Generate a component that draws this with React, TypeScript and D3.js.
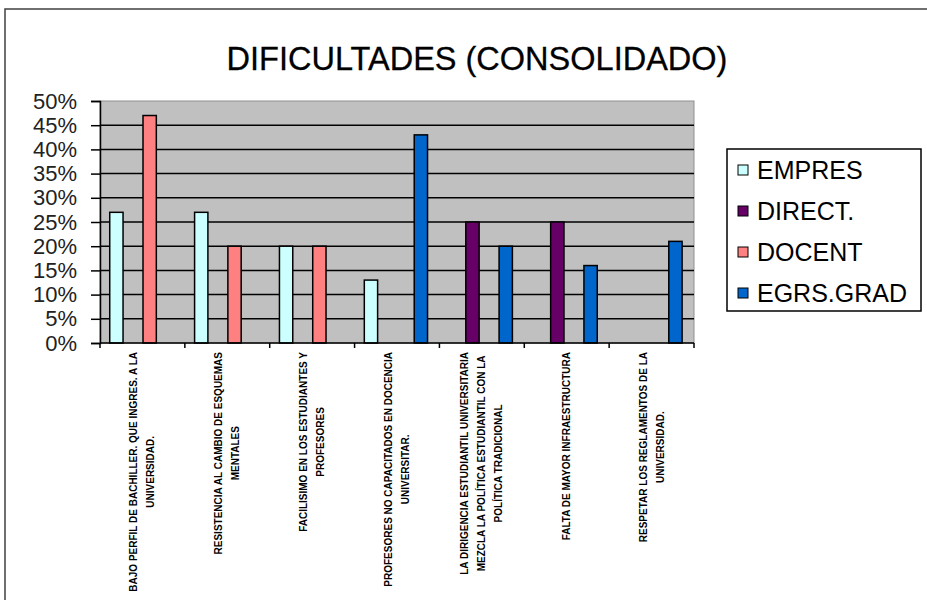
import React, { useRef, useEffect } from "react";
import * as d3 from "d3";

const title = "DIFICULTADES (CONSOLIDADO)";

const categories = [
  ["BAJO PERFIL DE BACHILLER. QUE INGRES. A LA", "UNIVERSIDAD."],
  ["RESISTENCIA AL CAMBIO DE ESQUEMAS", "MENTALES"],
  ["FACILISIMO EN LOS ESTUDIANTES Y", "PROFESORES"],
  ["PROFESORES NO CAPACITADOS EN DOCENCIA", "UNIVERSITAR."],
  [
    "LA DIRIGENCIA ESTUDIANTIL UNIVERSITARIA",
    "MEZCLA LA POLÍTICA ESTUDIANTIL CON LA",
    "POLÍTICA TRADICIONAL",
  ],
  ["FALTA DE MAYOR INFRAESTRUCTURA"],
  ["RESPETAR LOS REGLAMENTOS DE LA", "UNIVERSIDAD."],
];

const seriesNames = ["EMPRES", "DIRECT.", "DOCENT", "EGRS.GRAD"];
const seriesColors = ["#ccffff", "#660066", "#ff8080", "#0066cc"];

// values per category, null = no bar
const empres = [0.27, 0.27, 0.2, 0.13, null, null, null];
const direct = [null, null, null, null, 0.25, 0.25, null];
const docent = [0.47, 0.2, 0.2, null, null, null, null];
const egrsGrad = [null, null, null, 0.43, 0.2, 0.16, 0.21];

const yTicks = [0, 0.05, 0.1, 0.15, 0.2, 0.25, 0.3, 0.35, 0.4, 0.45, 0.5];

const App = () => {
  const ref = useRef<SVGSVGElement>(null);

  const w = 927,
    h = 600;
  const plot = { left: 100, right: 694, top: 101, bottom: 343 };

  useEffect(() => {
    const svg = d3.select(ref.current);
    svg.selectAll("*").remove();

    const allSeries = [empres, direct, docent, egrsGrad];
    const catIdx = categories.map((_, i) => String(i));

    const x0 = d3.scaleBand().domain(catIdx).range([plot.left, plot.right]).padding(0);
    const x1 = d3
      .scaleBand()
      .domain(seriesNames)
      .range([0, x0.bandwidth()])
      .paddingInner(0.2)
      .paddingOuter(0.65)
      .align(0.45);
    const y = d3.scaleLinear().domain([0, 0.5]).range([plot.bottom, plot.top]);

    // frame
    svg
      .append("rect")
      .attr("x", 5)
      .attr("y", 9)
      .attr("width", 1000)
      .attr("height", 1000)
      .attr("fill", "white")
      .attr("stroke", "#404040")
      .attr("stroke-width", 1.5);

    svg
      .append("text")
      .attr("x", 477)
      .attr("y", 70)
      .attr("text-anchor", "middle")
      .attr("font-family", "Liberation Sans, Arial, sans-serif")
      .attr("font-size", 32.5)
      .attr("fill", "#000")
      .attr("stroke", "#000")
      .attr("stroke-width", 0.3)
      .text(title);

    // plot area
    svg
      .append("rect")
      .attr("x", plot.left)
      .attr("y", plot.top)
      .attr("width", plot.right - plot.left)
      .attr("height", plot.bottom - plot.top)
      .attr("fill", "#c0c0c0")
      .attr("stroke", "#909090")
      .attr("stroke-width", 1);

    svg
      .append("g")
      .selectAll("line")
      .data(yTicks.filter((t) => t > 0 && t < 0.5))
      .join("line")
      .attr("x1", plot.left)
      .attr("x2", plot.right)
      .attr("y1", (d) => y(d))
      .attr("y2", (d) => y(d))
      .attr("stroke", "#000")
      .attr("stroke-width", 1.5);

    // bars
    allSeries.forEach((vals, si) => {
      svg
        .append("g")
        .selectAll("rect")
        .data(vals.map((v, i) => ({ v, i })).filter((d) => d.v != null))
        .join("rect")
        .attr("x", (d) => x0(String(d.i))! + x1(seriesNames[si])!)
        .attr("width", x1.bandwidth())
        .attr("y", (d) => y(d.v as number))
        .attr("height", (d) => y(0) - y(d.v as number))
        .attr("fill", seriesColors[si])
        .attr("stroke", "#000")
        .attr("stroke-width", 1.5);
    });

    // y axis
    const yAxis = svg.append("g").attr("transform", `translate(${plot.left},0)`);
    yAxis
      .call(
        d3
          .axisLeft(y)
          .tickValues(yTicks)
          .tickSize(9)
          .tickFormat((d) => d3.format(".0%")(d as number))
      )
      .call((g) => g.select(".domain").attr("stroke", "#000").attr("stroke-width", 1.5))
      .call((g) => g.selectAll(".tick line").attr("stroke", "#000").attr("stroke-width", 1.5))
      .call((g) =>
        g
          .selectAll(".tick text")
          .attr("x", -23)
          .attr("fill", "#222")
          .attr("font-size", 22)
          .attr("font-family", "Liberation Sans, Arial, sans-serif")
      );

    // x axis
    const xAxis = svg.append("g").attr("transform", `translate(0,${plot.bottom})`);
    xAxis
      .append("line")
      .attr("x1", plot.left)
      .attr("x2", plot.right)
      .attr("stroke", "#000")
      .attr("stroke-width", 1.5);
    xAxis
      .selectAll("line.tk")
      .data(catIdx.concat(["end"]))
      .join("line")
      .attr("class", "tk")
      .attr("x1", (d) => (d === "end" ? plot.right : x0(d)!))
      .attr("x2", (d) => (d === "end" ? plot.right : x0(d)!))
      .attr("y2", 5)
      .attr("stroke", "#000")
      .attr("stroke-width", 1.5);

    // category labels, rotated
    const lh = 17;
    categories.forEach((lines, ci) => {
      const cx = x0(String(ci))! + x0.bandwidth() / 2;
      const g = svg.append("g");
      const texts = lines.map((ln, li) =>
        g
          .append("text")
          .attr("font-family", "Liberation Sans Narrow, Arial Narrow, Liberation Sans, sans-serif")
          .attr("font-weight", "bold")
          .attr("font-size", 10)
          .attr("text-anchor", "middle")
          .attr("fill", "#000")
          .attr("data-x", cx + (li - (lines.length - 1) / 2) * lh + 3.5)
          .text(ln)
      );
      const maxLen = d3.max(texts, (t) => (t.node() as SVGTextElement).getComputedTextLength()) || 0;
      const cy = 352 + maxLen / 2;
      texts.forEach((t) => {
        const tx = +t.attr("data-x");
        t.attr("transform", `translate(${tx},${cy}) rotate(-90)`);
      });
    });

    // legend
    const lg = svg.append("g");
    lg.append("rect")
      .attr("x", 727)
      .attr("y", 149)
      .attr("width", 194)
      .attr("height", 162)
      .attr("fill", "white")
      .attr("stroke", "#000")
      .attr("stroke-width", 1.5);
    const ly = d3.scalePoint().domain(seriesNames).range([170, 293]);
    seriesNames.forEach((s, i) => {
      lg.append("rect")
        .attr("x", 738)
        .attr("y", ly(s)! - 5)
        .attr("width", 10)
        .attr("height", 10)
        .attr("fill", seriesColors[i])
        .attr("stroke", "#000")
        .attr("stroke-width", 1);
      lg.append("text")
        .attr("x", 757)
        .attr("y", ly(s)! + 8.5)
        .attr("font-family", "Liberation Sans, Arial, sans-serif")
        .attr("font-size", 25)
        .attr("fill", "#000")
        .text(s);
    });
  }, []);

  return (
    <svg
      ref={ref}
      width={w}
      height={h}
      style={{ position: "absolute", left: 0, top: 0, background: "white" }}
    ></svg>
  );
};

export default App;
